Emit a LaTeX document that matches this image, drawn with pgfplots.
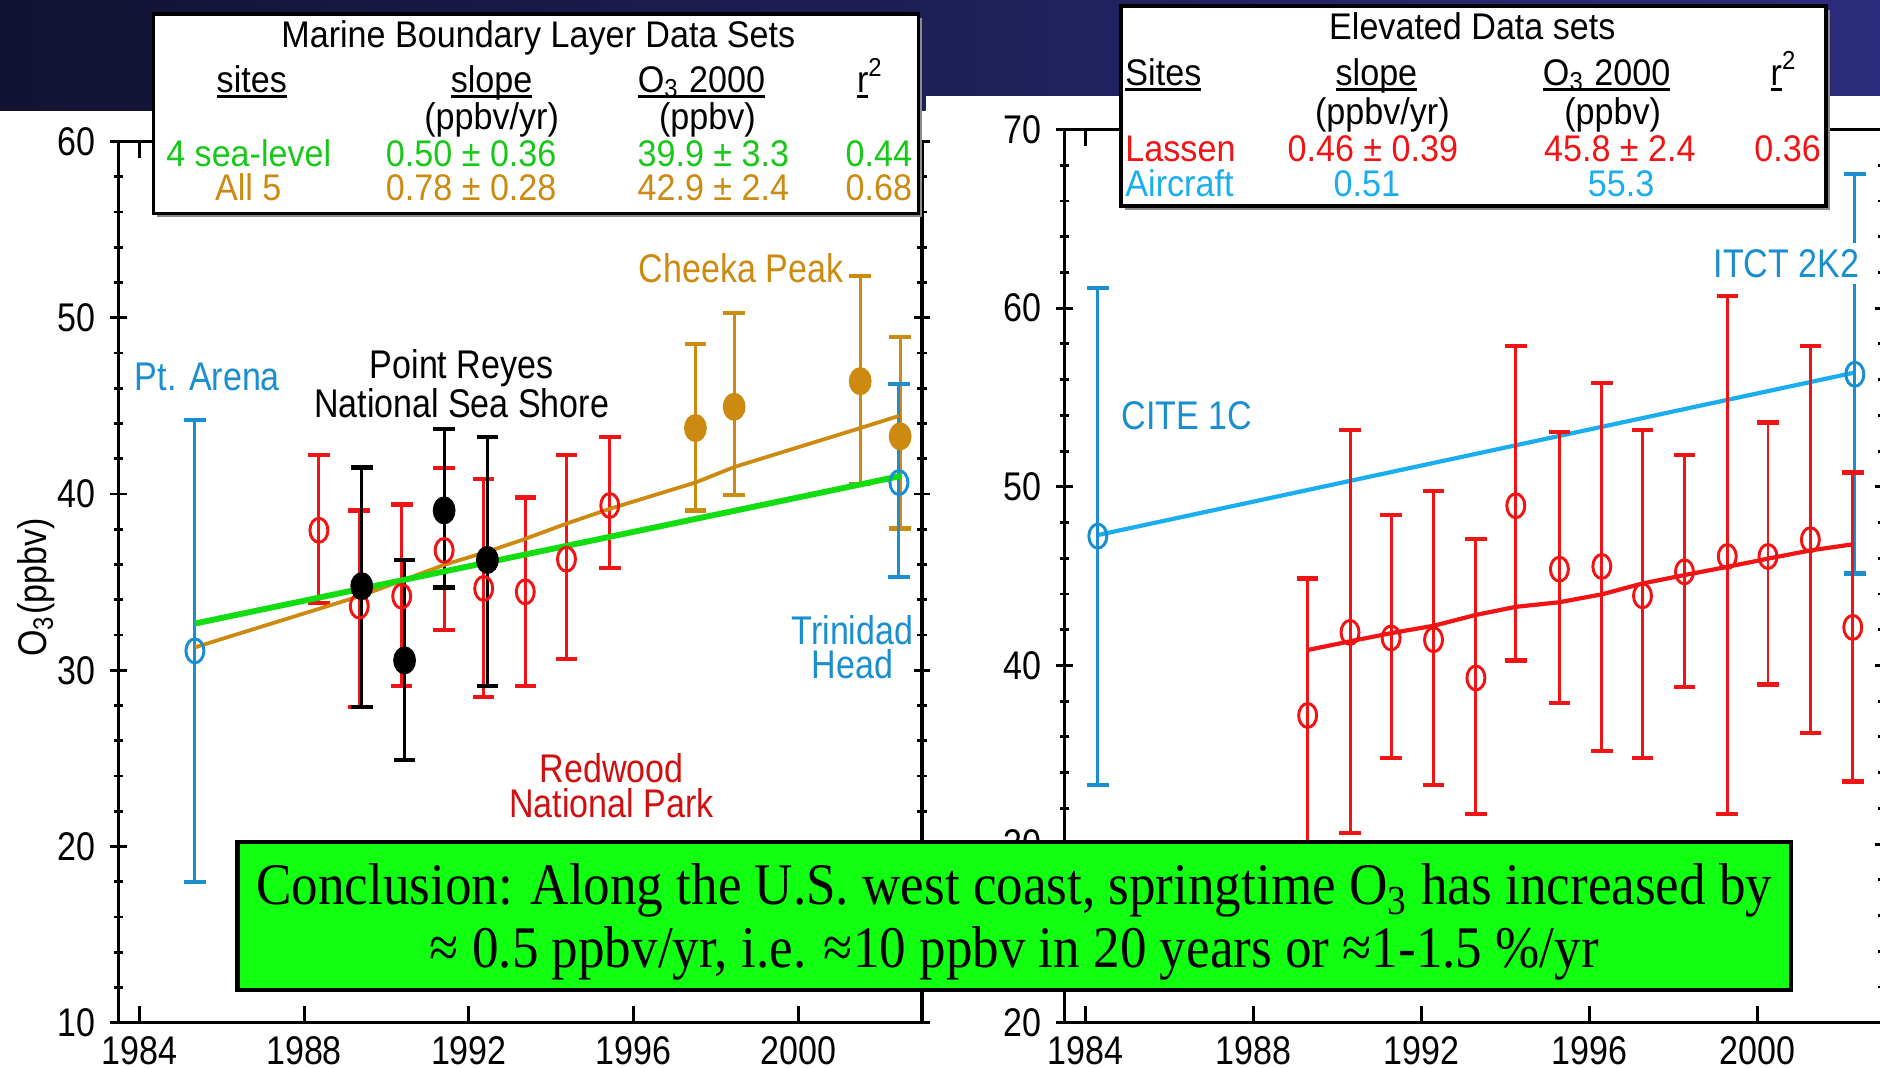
\documentclass[border=0pt]{standalone}
\usepackage{pgfplots}
\pgfplotsset{compat=1.18}
\usepackage{fontspec}
\setmainfont{Liberation Sans}[FakeStretch=0.85]
\newfontfamily\legfont{Liberation Sans}[FakeStretch=0.92]
\newfontfamily\serifcond{Liberation Serif}[FakeStretch=0.90]
\definecolor{mgreen}{HTML}{18C818}
\definecolor{lgreen}{HTML}{11DD11}
\definecolor{morange}{HTML}{CC8A10}
\definecolor{mred}{HTML}{F01414}
\definecolor{dred}{HTML}{D01010}
\definecolor{mblue}{HTML}{1A8ED0}
\definecolor{mcyan}{HTML}{1AAEF0}
\definecolor{boxgreen}{HTML}{11FF11}
\definecolor{navyA}{HTML}{121232}
\definecolor{navyB}{HTML}{2C2C7E}
\newcommand\ul[1]{\setbox0\hbox{#1}\rlap{\raisebox{-0.5mm}{\rule{\wd0}{0.8pt}}}\box0}
\pgfplotsset{myax/.style={scale only axis, axis line style={line width=0.8pt},
  xtick={1984,1988,...,2000}, minor x tick num=3,
  tick style={black, line width=0.7pt},
  major tick length=1.4mm, minor tick length=0.8mm,
  xtick align=inside, ytick align=center,
  /pgf/number format/assume math mode=true,
  xticklabel style={/pgf/number format/1000 sep={}, inner sep=0pt, yshift=-1.1mm},
  ticklabel style={font=\fontsize{9.5}{10}\selectfont},
  minor y tick num=4},
  errred/.style={error bars/.cd, y dir=both, y explicit,
   error bar style={mred, line width=0.7pt}, error mark options={rotate=90, mred, mark size=0.9mm, line width=1pt}},
}
\begin{document}
\begin{tikzpicture}[x=0.1mm,y=0.1mm]
\path[use as bounding box] (0,0) rectangle (1568,890);
\shade[left color=navyA,right color=navyB] (0,890) rectangle (1568,810);
\shade[left color=navyA,right color=navyA!51!navyB] (0,810.5) rectangle (772,798);
% ---------------- left axis
\begin{axis}[myax, at={(9.9mm,3.7mm)}, anchor=south west, width=67mm, height=73.5mm,
  xmin=1983.5, xmax=2003, ymin=10, ymax=60, ytick={10,20,...,60}]
% Pt. Arena
\addplot[mblue, only marks, mark=o, mark size=1mm, mark options={fill=white, xscale=0.75, line width=0.7pt},
  error bars/.cd, y dir=both, y explicit, error bar style={mblue, line width=0.7pt}, error mark options={rotate=90, mblue, mark size=0.9mm, line width=1pt}]
  table[x=x, y=y, y error plus=ep, y error minus=em]{
x y ep em
1985.35 31.1 13.1 13.1
};
% Redwood
\addplot[mred, only marks, mark=o, mark size=1mm, mark options={fill=white, xscale=0.75, line width=0.7pt}, errred]
  table[x=x, y=y, y error plus=ep, y error minus=em]{
x y ep em
1988.36 37.94 4.26 4.14
1989.34 33.64 5.43 5.74
1990.37 34.20 5.20 5.10
1991.40 36.80 4.66 4.50
1992.36 34.64 6.20 6.14
1993.37 34.45 5.35 5.35
1994.37 36.30 5.90 5.65
1995.42 39.35 3.88 3.55
};
% Point Reyes
\addplot[black, only marks, mark=*, mark size=1.1mm, mark options={xscale=0.8},
  error bars/.cd, y dir=both, y explicit, error bar style={black, line width=0.7pt}, error mark options={rotate=90, black, mark size=0.9mm, line width=1pt}]
  table[x=x, y=y, y error plus=ep, y error minus=em]{
x y ep em
1989.40 34.77 6.73 6.87
1990.44 30.56 5.70 5.66
1991.40 39.07 4.63 4.37
1992.45 36.26 6.97 7.16
};
% Cheeka Peak
\addplot[morange, only marks, mark=*, mark size=1.1mm, mark options={xscale=0.8},
  error bars/.cd, y dir=both, y explicit, error bar style={morange, line width=0.7pt}, error mark options={rotate=90, morange, mark size=0.9mm, line width=1pt}]
  table[x=x, y=y, y error plus=ep, y error minus=em]{
x y ep em
1997.50 43.74 4.75 4.67
1998.44 44.95 5.33 4.99
2001.50 46.40 5.97 5.84
2002.47 43.27 5.66 5.23
};
% Trinidad Head
\addplot[mblue, only marks, mark=o, mark size=1mm, mark options={fill=white, xscale=0.75, line width=0.7pt},
  error bars/.cd, y dir=both, y explicit, error bar style={mblue, line width=0.7pt}, error mark options={rotate=90, mblue, mark size=0.9mm, line width=1pt}]
  table[x=x, y=y, y error plus=ep, y error minus=em]{
x y ep em
2002.44 40.65 5.60 5.35
};
% fits
\addplot[morange, line width=0.9pt] coordinates {(1985.35,31.3) (1989.40,34.24) (1991.40,35.98) (1992.45,36.73) (1993.28,37.38) (1994.37,38.32) (1995.42,39.16) (1997.50,40.65) (1998.44,41.53) (2001.50,43.74) (2002.44,44.43)};
\addplot[lgreen, line width=1.4pt] coordinates {(1985.35,32.65) (2002.50,41.03)};
\end{axis}
% ---------------- right axis
\begin{axis}[myax, at={(88.8mm,3.7mm)}, anchor=south west, width=68.25mm, height=74.5mm,
  xmin=1983.5, xmax=2003, ymin=20, ymax=70, ytick={20,30,...,70}]
\addplot[mcyan, line width=1pt] coordinates {(1984.29,47.3) (2002.33,56.4)};
\addplot[mred, line width=1pt] coordinates {(1989.26,40.85) (1990.30,41.35) (1991.28,41.81) (1992.29,42.22) (1993.30,42.83) (1994.25,43.28) (1995.29,43.54) (1996.30,43.98) (1997.27,44.59) (1998.27,45.06) (1999.29,45.52) (2000.26,45.98) (2001.27,46.44) (2002.28,46.78)};
\addplot[mblue, only marks, mark=o, mark size=1mm, mark options={fill=white, xscale=0.75, line width=0.7pt},
  error bars/.cd, y dir=both, y explicit, error bar style={mblue, line width=0.7pt}, error mark options={rotate=90, mblue, mark size=0.9mm, line width=1pt}]
  table[x=x, y=y, y error plus=ep, y error minus=em]{
x y ep em
1984.29 47.24 13.89 13.94
2002.33 56.30 11.20 11.15
};
\addplot[mred, only marks, mark=o, mark size=1mm, mark options={fill=white, xscale=0.75, line width=0.7pt}, errred]
  table[x=x, y=y, y error plus=ep, y error minus=em]{
x y ep em
1989.29 37.20 7.67 7.70
1990.30 41.85 11.32 11.25
1991.28 41.54 6.89 6.74
1992.29 41.44 8.32 8.14
1993.30 39.30 7.80 7.60
1994.25 48.94 8.96 8.66
1995.29 45.39 7.67 7.49
1996.30 45.54 10.29 10.34
1997.27 43.90 9.27 9.10
1998.27 45.24 6.56 6.44
1999.29 46.10 14.60 14.40
2000.26 46.10 7.50 7.16
2001.27 47.04 10.86 10.84
2002.28 42.13 8.67 8.63
};
\end{axis}
% ---------------- labels
\begin{scope}[every node/.style={font=\fontsize{9.5}{11}\selectfont, inner sep=0pt}]
\node[text=mblue] at (173,576) {Pt. Arena};
\node at (385,583) {Point Reyes};
\node at (385,554) {National Sea Shore};
\node[text=morange] at (618,666) {Cheeka Peak};
\node[text=mblue] at (711,364) {Trinidad};
\node[text=mblue] at (711,336) {Head};
\node[text=dred] at (510,249) {Redwood};
\node[text=dred] at (510,220) {National Park};
\node[text=mblue] at (990,543) {CITE 1C};
\node[text=mblue, fill=white, inner sep=1.5pt] at (1490,670) {ITCT 2K2};
\node[rotate=90] at (30,400) {O\textsubscript{3}(ppbv)};
\end{scope}
% ---------------- legend boxes
\begin{scope}[every node/.style={font=\legfont\fontsize{8.8}{10}\selectfont, inner sep=0pt, anchor=base}]
\fill[black!45] (131,709) rectangle (769,875);
\draw[fill=white, line width=0.9pt] (128,712) rectangle (766,878);
\node at (449,850) {Marine Boundary Layer Data Sets};
\node at (210,813) {\ul{sites}};
\node at (410,813) {\ul{slope}};
\node at (585,813) {\ul{O\textsubscript{3} 2000}};
\node at (726,813) {\ul{r}\textsuperscript{2}};
\node at (410,782) {(ppbv/yr)};
\node at (590,782) {(ppbv)};
\node[anchor=base west, text=mgreen] at (138,751) {4 sea-level};
\node[text=mgreen] at (393,751) {0.50 ± 0.36};
\node[text=mgreen] at (595,751) {39.9 ± 3.3};
\node[text=mgreen] at (733,751) {0.44};
\node[text=morange] at (207,723) {All 5};
\node[text=morange] at (393,723) {0.78 ± 0.28};
\node[text=morange] at (595,723) {42.9 ± 2.4};
\node[text=morange] at (733,723) {0.68};
\fill[black!45] (938,715) rectangle (1526,882);
\draw[fill=white, line width=0.9pt] (935,718) rectangle (1523,885);
\node at (1228,857) {Elevated Data sets};
\node[anchor=base west] at (938,819) {\ul{Sites}};
\node at (1148,819) {\ul{slope}};
\node at (1340,819) {\ul{O\textsubscript{3} 2000}};
\node at (1488,819) {\ul{r}\textsuperscript{2}};
\node at (1153,786) {(ppbv/yr)};
\node at (1345,786) {(ppbv)};
\node[anchor=base west, text=mred] at (938,755) {Lassen};
\node[text=mred] at (1145,755) {0.46 ± 0.39};
\node[text=mred] at (1351,755) {45.8 ± 2.4};
\node[text=mred] at (1491,755) {0.36};
\node[anchor=base west, text=mcyan] at (938,726) {Aircraft};
\node[text=mcyan] at (1140,726) {0.51};
\node[text=mcyan] at (1352,726) {55.3};
\end{scope}
% ---------------- conclusion
\draw[fill=boxgreen, line width=1pt] (198,64) rectangle (1494,188);
\node[align=center, inner sep=0pt, font=\serifcond\fontsize{14}{14.8}\selectfont] at (846,121)
  {Conclusion: Along the U.S. west coast, springtime O\textsubscript{3} has increased by\\ ≈ 0.5 ppbv/yr, i.e. ≈10 ppbv in 20 years or ≈1-1.5 \%/yr};
\end{tikzpicture}
\end{document}
